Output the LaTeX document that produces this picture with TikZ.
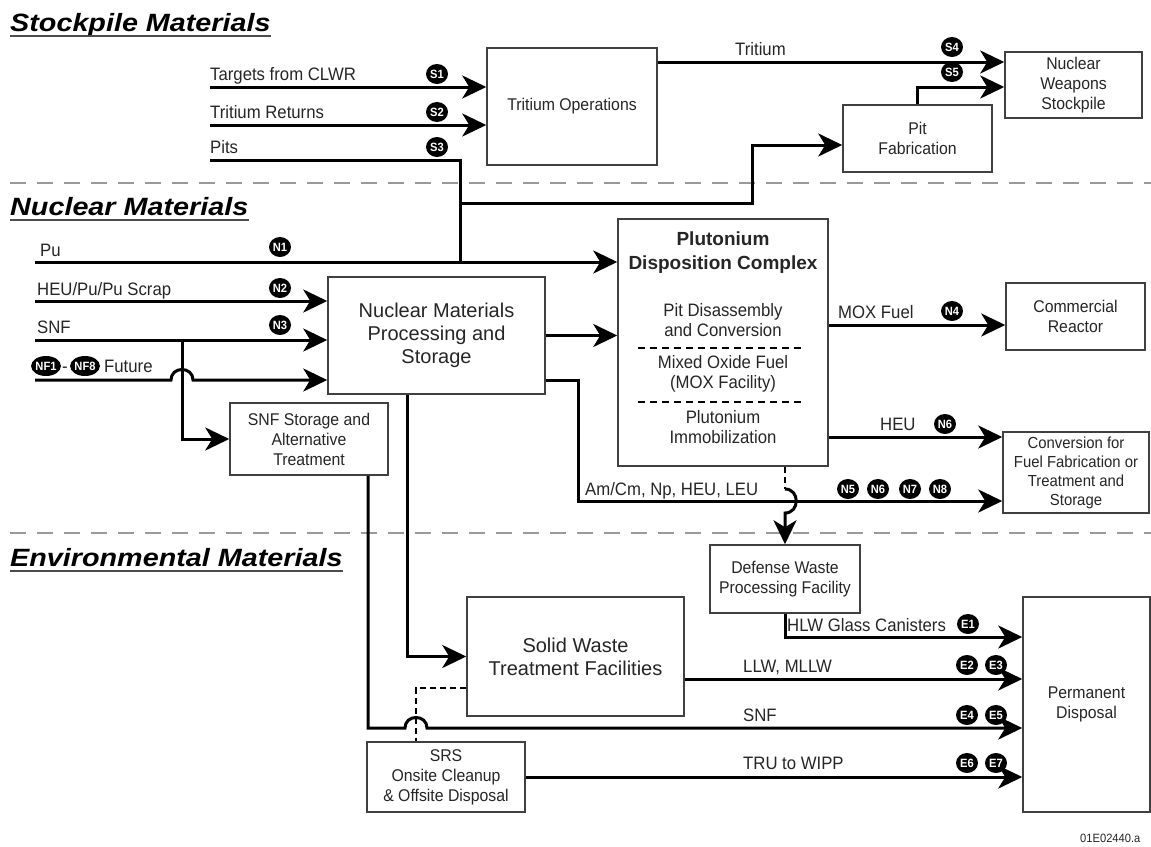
\documentclass[tikz,border=0pt]{standalone}
\usepackage{fontspec}
\setmainfont{Liberation Sans}[FakeStretch=0.93]
\newfontfamily\bigfam{Liberation Sans}
\newfontfamily\headfam{Liberation Sans}[FakeStretch=1.15]
\usetikzlibrary{arrows.meta,shapes.geometric}
\newcommand\lblfont{\fontsize{18}{20}\selectfont}
\newcommand\boxfont{\fontsize{17}{20}\selectfont}
\newcommand\bigtxt{\bigfam\fontsize{20}{23}\selectfont}
\newcommand\headtxt{\headfam\bfseries\itshape\fontsize{25}{28}\selectfont}
\newcommand\badgetxt{\bfseries\fontsize{12}{12}\selectfont}
\tikzset{%
  box/.style={draw=black!75,line width=1.5pt,align=center,inner sep=2pt,text=black!85,font=\boxfont},
  bigbox/.style={box,font=\bigtxt},
  lbl/.style={inner sep=0pt,anchor=base west,text=black!85,font=\lblfont},
  badge/.style={ellipse,fill=black,text=white,inner sep=0pt,minimum width=22pt,minimum height=20pt,font=\badgetxt},
  head/.style={inner sep=0pt,anchor=base west,font=\headtxt},
  uline/.style={draw=black!70,line width=2pt},
  sepline/.style={draw=black!40,line width=2pt,dash pattern=on 16pt off 11pt},
  wire/.style={draw,line width=3pt},
  flow/.style={wire,-{Stealth[length=24pt,width=23pt,inset=7pt]}},
  tie/.style={draw,line width=2pt,dash pattern=on 6pt off 4pt},
  subsep/.style={draw,line width=1.2pt,dash pattern=on 7pt off 5pt}
}

\begin{document}
\begin{tikzpicture}[x=1pt,y=-1pt]
  \useasboundingbox (0,0) rectangle (1151,846);
  \fill[white] (0,0) rectangle (1151,846);

  \path
    (10,31) node[head] (hStock) {Stockpile Materials}
    (10,215) node[head] (hNuc) {Nuclear Materials}
    (10,566) node[head] (hEnv) {Environmental Materials};
  \draw[uline] ([yshift=-5pt]hStock.base west) -- ([yshift=-5pt]hStock.base east);
  \draw[uline] ([yshift=-5pt]hNuc.base west) -- ([yshift=-5pt]hNuc.base east);
  \draw[uline] ([yshift=-5pt]hEnv.base west) -- ([yshift=-5pt]hEnv.base east);
  \draw[sepline] (10,183) -- (1151,183);
  \draw[sepline] (10,533) -- (1151,533);

  \path
    (572,106.5) node[box,minimum width=170pt,minimum height=117pt] (trit) {Tritium Operations}
    (1073.5,85) node[box,minimum width=137pt,minimum height=66pt] (nws) {Nuclear\\Weapons\\Stockpile}
    (917.5,138.5) node[box,minimum width=149pt,minimum height=67pt] (pitfab) {Pit\\Fabrication}
    (436.5,335.5) node[bigbox,minimum width=217pt,minimum height=117pt] (nmps) {Nuclear Materials\\Processing and\\Storage}
    (309,439) node[box,minimum width=158pt,minimum height=72pt] (snfstor) {SNF Storage and\\Alternative\\Treatment}
    (723,342.5) node[box,minimum width=210pt,minimum height=247pt] (pdc) {}
    (1075.5,316.5) node[box,minimum width=139pt,minimum height=67pt] (comm) {Commercial\\Reactor}
    (1076,472.5) node[box,minimum width=146pt,minimum height=81pt,font=\fontsize{16}{19}\selectfont] (conv) {Conversion for\\Fuel Fabrication or\\Treatment and\\Storage}
    (785,579) node[box,minimum width=150pt,minimum height=68pt] (dwpf) {Defense Waste\\Processing Facility}
    (1086.5,704.5) node[box,minimum width=127pt,minimum height=215pt] (perm) {Permanent\\Disposal}
    (575.5,656.5) node[bigbox,minimum width=217pt,minimum height=119pt] (solid) {Solid Waste\\Treatment Facilities}
    (446,777) node[box,minimum width=158pt,minimum height=70pt] (srs) {SRS\\Onsite Cleanup\\\& Offsite Disposal};

  \path
    (723,253) node[align=center,inner sep=0pt,text=black!85,font=\bigfam\bfseries\fontsize{19}{24}\selectfont] (pdcT) {Plutonium\\Disposition Complex}
    (723,320) node[align=center,inner sep=0pt,text=black!85,font=\lblfont] (pdcA) {Pit Disassembly\\and Conversion}
    (723,374) node[align=center,inner sep=0pt,text=black!85,font=\lblfont] (pdcB) {Mixed Oxide Fuel\\(MOX Facility)}
    (723,427) node[align=center,inner sep=0pt,text=black!85,font=\lblfont] (pdcC) {Plutonium\\Immobilization};
  \draw[subsep] (638,348) -- (802,348);
  \draw[subsep] (638,402) -- (802,402);

  \coordinate (inS1) at (210,87);
  \coordinate (inS2) at (210,125);
  \coordinate (inS3) at (210,160);
  \coordinate (pjoin) at (460,262);
  \coordinate (psplit) at (460,203);
  \coordinate (pbend) at (752,145);
  \coordinate (yTrit) at (0,62);
  \coordinate (yS5) at (0,87);
  \coordinate (inPu) at (35,262);
  \coordinate (inHEU) at (35,301);
  \coordinate (inSNF) at (35,340);
  \coordinate (inNF) at (35,380);
  \coordinate (snfx) at (182,340);
  \coordinate (hop1) at (171,380);
  \coordinate (hop1e) at (193,380);
  \coordinate (amx) at (578,501);
  \coordinate (yMox) at (0,325);
  \coordinate (yHeu) at (0,437);
  \coordinate (hopA) at (0,489);
  \coordinate (hopB) at (0,513);
  \coordinate (yHlw) at (0,637);
  \coordinate (dropx) at (407,0);
  \coordinate (yLlw) at (0,679);
  \coordinate (snfx2) at (368,728);
  \coordinate (hop2) at (405,728);
  \coordinate (hop2e) at (427,728);
  \coordinate (tiex) at (416,688);

  \draw[flow] (inS1) -- (trit.west |- inS1);
  \draw[flow] (inS2) -- (trit.west |- inS2);
  \draw[wire] (inS3) -| (pjoin);
  \draw[flow] (psplit) -| (pbend) -- (pitfab.west |- pbend);
  \draw[flow] (trit.east |- yTrit) -- (nws.west |- yTrit);
  \draw[flow] (pitfab.north) |- (nws.west |- yS5);
  \draw[flow] (inPu) -- (pdc.west |- inPu);
  \draw[flow] (inHEU) -- (nmps.west |- inHEU);
  \draw[flow] (inSNF) -- (nmps.west |- inSNF);
  \draw[flow] (snfx) |- (snfstor.west);
  \draw[flow] (inNF) -- (hop1) .. controls +(0,-14) and +(0,-14) .. (hop1e) -- (nmps.west |- inNF);
  \draw[flow] (nmps.east) -- (pdc.west |- nmps.east);
  \draw[flow] ([yshift=14pt]nmps.south east) -| (amx) -- (conv.west |- amx);
  \draw[flow] (pdc.east |- yMox) -- (comm.west |- yMox);
  \draw[flow] (pdc.east |- yHeu) -- (conv.west |- yHeu);
  \draw[tie] (dwpf.north |- pdc.south) -- (dwpf.north |- hopA);
  \draw[flow] (dwpf.north |- hopA) .. controls +(15,0) and +(15,0) .. (dwpf.north |- hopB) -- (dwpf.north);
  \draw[flow] (dwpf.south) |- (perm.west |- yHlw);
  \draw[flow] (nmps.south -| dropx) |- (solid.west);
  \draw[flow] (solid.east |- yLlw) -- (perm.west |- yLlw);
  \draw[flow] (snfstor.south -| snfx2) -- (snfx2) -- (hop2) .. controls +(0,-14) and +(0,-14) .. (hop2e) -- (perm.west |- snfx2);
  \draw[tie] (solid.west |- tiex) -| (srs.north -| tiex);
  \draw[flow] (srs.east) -- (perm.west |- srs.east);

  \path
    (210,80) node[lbl] (lCLWR) {Targets from CLWR}
    (210,118) node[lbl] (lRet) {Tritium Returns}
    (210,153) node[lbl] (lPits) {Pits}
    (735,55) node[lbl] (lTrit) {Tritium}
    (437,74) node[badge] (bS1) {S1}
    (437,112) node[badge] (bS2) {S2}
    (437,147) node[badge] (bS3) {S3}
    (952,47) node[badge] (bS4) {S4}
    (952,72) node[badge] (bS5) {S5};

  \path
    (40,256) node[lbl] (lPu) {Pu}
    (37,295) node[lbl] (lHEU) {HEU/Pu/Pu Scrap}
    (37,333) node[lbl] (lSNF) {SNF}
    (46,366) node[badge,minimum width=25pt] (bNF1) {NF1}
    (65,372) node[lbl,anchor=base] (lDash) {-}
    (85,366) node[badge,minimum width=25pt] (bNF8) {NF8}
    (104,372) node[lbl] (lFut) {Future}
    (280,247) node[badge] (bN1) {N1}
    (280,288) node[badge] (bN2) {N2}
    (280,325) node[badge] (bN3) {N3}
    (838,318) node[lbl] (lMox) {MOX Fuel}
    (952,311) node[badge] (bN4) {N4}
    (880,430) node[lbl] (lHeu) {HEU}
    (945,424) node[badge] (bN6a) {N6}
    (585,495) node[lbl] (lAm) {Am/Cm, Np, HEU, LEU}
    (848,489) node[badge] (bN5) {N5}
    (878,489) node[badge] (bN6) {N6}
    (910,489) node[badge] (bN7) {N7}
    (940,489) node[badge] (bN8) {N8};

  \path
    (787,631) node[lbl] (lHlw) {HLW Glass Canisters}
    (968,624) node[badge] (bE1) {E1}
    (743,672) node[lbl] (lLlw) {LLW, MLLW}
    (967,665) node[badge] (bE2) {E2}
    (996,665) node[badge] (bE3) {E3}
    (743,721) node[lbl] (lSnf2) {SNF}
    (967,715) node[badge] (bE4) {E4}
    (996,715) node[badge] (bE5) {E5}
    (743,769) node[lbl] (lTru) {TRU to WIPP}
    (967,763) node[badge] (bE6) {E6}
    (996,763) node[badge] (bE7) {E7}
    (1080,842) node[lbl,font=\fontsize{12}{12}\selectfont] (code) {01E02440.a};
\end{tikzpicture}
\end{document}
